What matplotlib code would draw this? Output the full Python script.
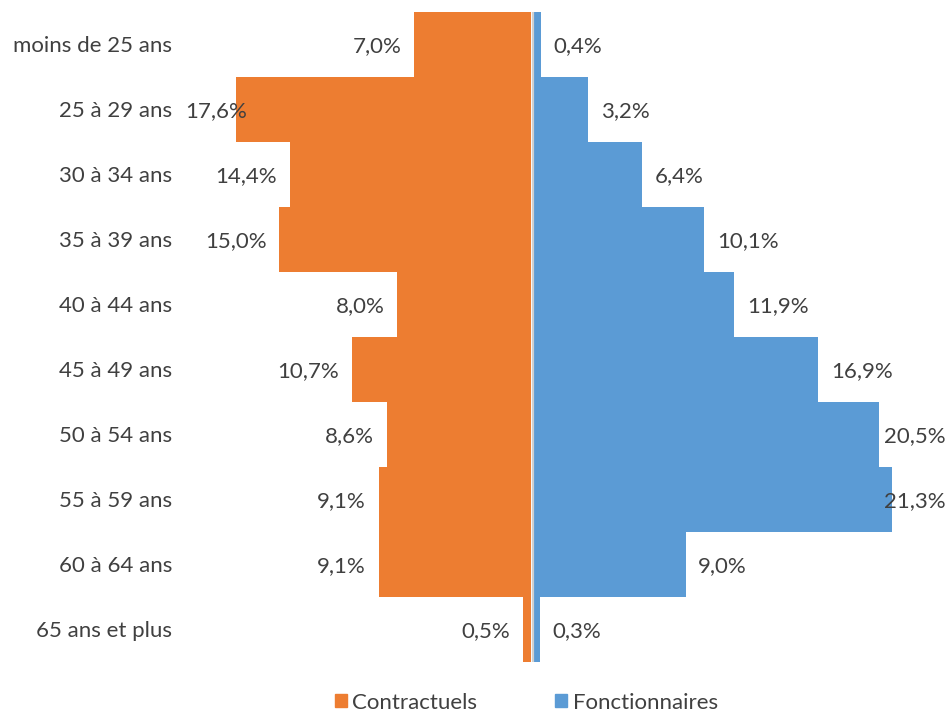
import matplotlib
matplotlib.use("Agg")
from matplotlib import pyplot as plt
from matplotlib.patches import Patch

plt.rcParams['font.family'] = ['Lato', 'DejaVu Sans']

# tranches d'âge et répartition (%)
ages = ["moins de 25 ans", "25 à 29 ans", "30 à 34 ans", "35 à 39 ans",
        "40 à 44 ans", "45 à 49 ans", "50 à 54 ans", "55 à 59 ans",
        "60 à 64 ans", "65 ans et plus"]
contractuels = [7.0, 17.6, 14.4, 15.0, 8.0, 10.7, 8.6, 9.1, 9.1, 0.5]
fonctionnaires = [0.4, 3.2, 6.4, 10.1, 11.9, 16.9, 20.5, 21.3, 9.0, 0.3]

orange = "#ED7D31"
bleu = "#5B9BD5"
gris = "#404040"
gap = 0.09
fs = 16

fig = plt.figure(figsize=(9.5, 7.14), dpi=100)
ax = fig.add_axes([185 / 950, 52 / 714, 761 / 950, 650 / 714])

y = range(len(ages))
ax.barh(y, [-v for v in contractuels], left=-gap, height=1.0, color=orange)
ax.barh(y, fonctionnaires, left=gap, height=1.0, color=bleu)
ax.axvline(0, color="#d0d0d0", lw=1.6)

xmin, xmax = -20.71, 24.58
ax.set_xlim(xmin, xmax)
ax.set_ylim(len(ages) - 0.5, -0.5)
for s in ax.spines.values():
    s.set_visible(False)
ax.set_xticks([])
ax.set_yticks([])

# libellés des tranches
for i, a in enumerate(ages):
    ax.text(-0.017, i + 0.03, a, transform=ax.get_yaxis_transform(),
            ha="right", va="center", fontsize=fs, color=gris)

fig.canvas.draw()
r = fig.canvas.get_renderer()
inv = ax.transData.inverted()
x0_px = ax.transData.transform((xmin, 0))[0]
x1_px = ax.transData.transform((xmax, 0))[0]

# étiquettes de valeurs, gardées dans la zone du graphique
for i, (c, f) in enumerate(zip(contractuels, fonctionnaires)):
    t = ax.text(-gap - c - 0.75, i + 0.03, f"{c:.1f}%".replace(".", ","),
                ha="right", va="center", fontsize=fs, color=gris)
    bb = t.get_window_extent(r)
    if bb.x0 < x0_px:
        t.set_x(inv.transform((x0_px + bb.width, 0))[0])
    t = ax.text(gap + f + 0.75, i + 0.03, f"{f:.1f}%".replace(".", ","),
                ha="left", va="center", fontsize=fs, color=gris)
    bb = t.get_window_extent(r)
    if bb.x1 > x1_px:
        t.set_x(inv.transform((x1_px - bb.width, 0))[0])

handles = [Patch(color=orange, label="Contractuels"),
           Patch(color=bleu, label="Fonctionnaires")]
fig.legend(handles=handles, loc="lower center", bbox_to_anchor=(0.554, -0.026),
           ncol=2, frameon=False, fontsize=fs, handlelength=0.55,
           handleheight=0.55, handletextpad=0.25, columnspacing=3.5,
           labelcolor=gris)

fig.savefig("out.png", dpi=100)
